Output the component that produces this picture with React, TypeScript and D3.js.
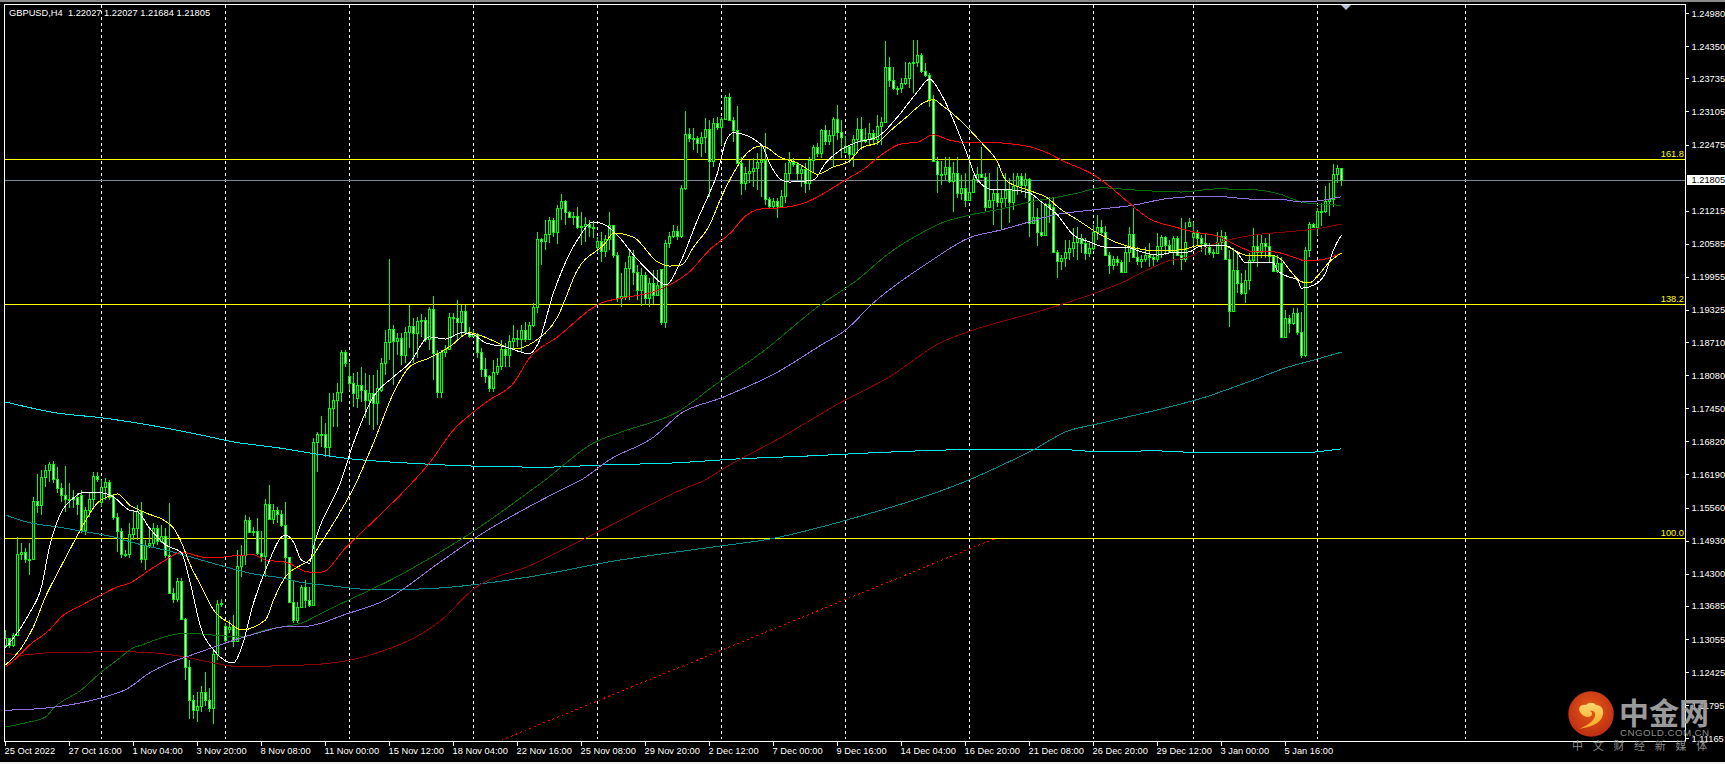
import React from "react";
import * as d3 from "d3";

// all bar prices are in points (1/10000)
const closes = [
  11308,11294,11313,11468,11471,11458,11458,11569,11561,11614,
  11628,11639,11611,11593,11580,11572,11572,11576,11563,11513,
  11551,11572,11616,11611,11595,11605,11576,11538,11511,11468,
  11468,11506,11517,11550,11458,11485,11489,11517,11492,11502,
  11466,11393,11382,11416,11344,11252,11190,11170,11178,11205,
  11190,11174,11277,11372,11374,11304,11329,11302,11445,11466,
  11532,11510,11511,11470,11464,11563,11534,11551,11544,11523,
  11462,11376,11342,11367,11405,11380,11370,11681,11696,11696,
  11671,11746,11761,11776,11852,11831,11793,11774,11790,11780,
  11761,11774,11755,11784,11831,11871,11896,11873,11879,11847,
  11890,11902,11889,11911,11913,11877,11934,11850,11776,11852,
  11858,11919,11917,11910,11930,11890,11883,11887,11852,11820,
  11807,11784,11814,11826,11858,11847,11873,11879,11877,11894,
  11877,11904,11938,12068,12064,12077,12104,12081,12127,12140,
  12119,12110,12111,12091,12092,12096,12091,12091,12064,12045,
  12068,12094,12037,11955,11959,12012,12035,12005,11970,11999,
  11955,11984,11961,11980,11910,12060,12073,12083,12073,12165,
  12268,12260,12260,12251,12262,12277,12216,12289,12281,12296,
  12338,12294,12275,12212,12174,12193,12197,12203,12214,12218,
  12144,12131,12140,12131,12150,12193,12214,12211,12193,12201,
  12174,12218,12243,12231,12275,12254,12266,12296,12272,12262,
  12245,12230,12258,12277,12254,12258,12270,12258,12283,12291,
  12395,12371,12355,12355,12365,12374,12403,12405,12418,12388,
  12380,12334,12216,12192,12192,12205,12178,12193,12155,12165,
  12142,12157,12182,12192,12186,12129,12142,12155,12138,12146,
  12161,12138,12169,12188,12171,12182,12098,12110,12081,12075,
  12134,12129,12043,12026,12031,12043,12051,12062,12070,12060,
  12041,12051,12081,12091,12081,12037,12018,12030,12024,12005,
  12043,12077,12033,12026,12030,12037,12033,12030,12054,12071,
  12056,12043,12070,12037,12030,12062,12100,12079,12070,12060,
  12052,12043,12041,12062,12073,12030,11930,12009,11984,11965,
  11990,12028,12054,12043,12060,12054,12035,12007,12022,11881,
  11917,11908,11927,11890,11847,12047,12096,12091,12121,12121,
  12140,12144,12192,12203,12180.5,
];

const highs = [
  11323,11308,11317,11500,11489,11479,11489,11576,11620,11628,
  11637,11643,11645,11633,11603,11635,11603,11590,11584,11590,
  11557,11584,11624,11624,11609,11612,11609,11580,11546,11517,
  11475,11527,11551,11561,11567,11494,11519,11527,11523,11523,
  11517,11565,11403,11422,11422,11346,11266,11199,11205,11216,
  11243,11212,11285,11380,11382,11336,11342,11351,11475,11485,
  11542,11538,11519,11536,11511,11572,11599,11563,11557,11551,
  11567,11462,11418,11376,11409,11418,11405,11689,11700,11731,
  11717,11774,11774,11793,11856,11856,11831,11812,11814,11824,
  11812,11809,11809,11818,11841,11894,12030,11904,11889,11889,
  11900,11942,11917,11919,11925,11919,11938,11959,11856,11856,
  11866,11927,11927,11951,11942,11942,11900,11894,11889,11860,
  11841,11809,11837,11841,11875,11870,11885,11904,11894,11904,
  11910,11910,11946,12081,12070,12104,12110,12108,12132,12153,
  12142,12121,12119,12129,12119,12110,12104,12100,12072,12081,
  12075,12119,12094,12043,12003,12024,12047,12047,12018,12012,
  12005,11993,12009,12009,12011,12066,12081,12094,12092,12171,
  12312,12279,12279,12264,12272,12298,12294,12298,12300,12300,
  12342,12346,12300,12321,12224,12205,12218,12222,12232,12247,
  12270,12148,12146,12146,12161,12212,12233,12222,12214,12209,
  12212,12224,12247,12251,12277,12285,12275,12300,12323,12294,
  12264,12247,12266,12298,12300,12279,12289,12275,12304,12300,
  12445,12414,12395,12359,12374,12405,12405,12447,12447,12422,
  12403,12384,12342,12224,12216,12224,12224,12214,12224,12190,
  12193,12222,12190,12205,12243,12193,12193,12161,12205,12161,
  12193,12184,12193,12193,12193,12193,12184,12148,12127,12136,
  12136,12148,12148,12047,12037,12066,12066,12089,12091,12077,
  12070,12062,12094,12113,12104,12092,12043,12035,12035,12028,
  12056,12091,12127,12052,12037,12052,12060,12039,12079,12075,
  12073,12066,12073,12073,12108,12100,12108,12100,12085,12075,
  12077,12060,12049,12081,12085,12081,12047,12051,12041,12003,
  12009,12041,12089,12075,12077,12070,12077,12037,12037,12033,
  11932,11923,11936,11936,11929,12052,12100,12098,12127,12136,
  12169,12174,12211,12209,12203,
];

const lows = [
  11290,11289,11290,11311,11456,11450,11428,11456,11546,11542,
  11595,11605,11603,11584,11567,11548,11555,11555,11542,11508,
  11504,11538,11555,11605,11557,11570,11570,11532,11471,11460,
  11462,11460,11494,11494,11450,11437,11479,11481,11485,11489,
  11460,11393,11374,11376,11342,11228,11153,11153,11148,11167,
  11178,11167,11144,11266,11367,11296,11317,11290,11300,11424,
  11447,11508,11502,11466,11452,11424,11532,11525,11527,11519,
  11424,11374,11336,11336,11365,11365,11367,11370,11624,11672,
  11652,11652,11710,11710,11757,11824,11780,11748,11746,11757,
  11727,11713,11704,11713,11776,11809,11837,11790,11847,11828,
  11831,11860,11831,11841,11881,11872,11856,11799,11765,11765,
  11843,11856,11881,11875,11881,11889,11879,11881,11841,11805,
  11793,11776,11776,11809,11818,11824,11824,11856,11862,11852,
  11872,11875,11900,11927,12018,12047,12060,12072,12058,12104,
  12094,12108,12094,12087,12056,12062,12072,12070,12041,12024,
  12033,12047,12032,11948,11938,11951,11951,11980,11951,11940,
  11942,11938,11944,11967,11904,11898,12051,12070,12066,12070,
  12161,12252,12237,12232,12224,12232,12148,12205,12275,12247,
  12294,12294,12252,12212,12152,12161,12174,12167,12161,12148,
  12132,12127,12127,12108,12127,12136,12180,12205,12180,12167,
  12155,12161,12193,12224,12222,12247,12247,12205,12256,12222,
  12232,12212,12205,12232,12237,12251,12247,12247,12247,12247,
  12289,12357,12352,12342,12346,12361,12355,12346,12395,12384,
  12376,12319,12214,12155,12171,12180,12174,12119,12146,12142,
  12129,12142,12155,12174,12184,12119,12129,12094,12129,12085,
  12129,12098,12123,12152,12155,12146,12072,12098,12054,12072,
  12075,12098,12041,11993,12009,12014,12028,12033,12028,12041,
  12028,12033,12047,12066,12075,12035,12001,12009,12016,12003,
  12003,12024,12032,12018,12012,12024,12014,12014,12024,12032,
  12037,12041,12018,12035,12009,12024,12092,12056,12056,12043,
  12037,12037,12032,12041,12047,12028,11900,11929,11965,11961,
  11946,11971,12024,12014,12032,12032,12024,12005,12003,11879,
  11879,11889,11904,11885,11841,11843,12033,12089,12075,12092,
  12117,12112,12129,12174,12168,
];

// opens follow the previous close, except on these bars
const firstOpen = 11294;
const openGaps: Record<number, number> = {
  19: 11580, 24: 11567, 55: 11331, 56: 11325, 57: 11331, 86: 11807, 88: 11765,
  94: 11780, 148: 12052, 164: 12011, 210: 12233, 296: 12092, 297: 12071,
};

const whiteMa = [[0,11289],[4,11329],[6,11355],[9,11405],[11,11481],[14,11548],[17,11574],[19,11584],[24,11584],[27,11576],[31,11551],[33,11548],[36,11517],[40,11485],[44,11470],[46,11418],[49,11323],[52,11285],[57,11260],[59,11289],[62,11374],[65,11437],[70,11504],[72,11490],[74,11456],[76,11450],[77,11481],[84,11609],[87,11679],[92,11767],[97,11805],[101,11831],[106,11881],[110,11877],[114,11889],[117,11885],[120,11870],[125,11862],[131,11849],[133,11866],[137,11965],[143,12066],[147,12100],[150,12094],[154,12066],[157,12037],[161,12005],[165,11980],[169,12028],[173,12104],[176,12155],[178,12193],[180,12252],[182,12270],[189,12247],[191,12212],[194,12180],[196,12176],[202,12180],[205,12212],[208,12233],[213,12252],[218,12262],[223,12300],[228,12348],[231,12372],[234,12342],[240,12237],[243,12180],[247,12161],[251,12161],[256,12155],[259,12138],[263,12113],[267,12075],[271,12062],[275,12052],[280,12052],[284,12043],[288,12037],[291,12041],[296,12043],[298,12052],[301,12056],[304,12056],[308,12041],[310,12022],[317,12022],[318,12007],[321,11995],[323,11990],[324,11974],[328,11984],[330,12003],[332,12047],[334,12075]];
const yellowMa = [[0,11256],[4,11289],[7,11329],[10,11386],[13,11431],[17,11489],[19,11517],[23,11565],[27,11580],[28,11582],[31,11561],[35,11546],[40,11530],[42,11517],[44,11489],[46,11450],[49,11405],[52,11361],[56,11336],[59,11323],[65,11342],[67,11380],[70,11424],[74,11447],[76,11456],[79,11490],[88,11609],[92,11679],[97,11774],[101,11824],[106,11841],[111,11862],[116,11889],[119,11883],[123,11870],[127,11858],[132,11871],[138,11919],[143,12009],[150,12060],[152,12079],[157,12071],[163,12024],[166,12016],[169,12018],[172,12052],[176,12094],[179,12148],[182,12193],[185,12228],[189,12245],[194,12222],[198,12212],[200,12203],[203,12191],[207,12205],[211,12216],[214,12241],[218,12251],[222,12279],[225,12298],[230,12329],[232,12333],[234,12323],[244,12251],[248,12214],[250,12180],[254,12165],[257,12157],[260,12148],[264,12123],[268,12104],[273,12079],[278,12060],[282,12051],[288,12045],[294,12047],[299,12056],[304,12056],[307,12047],[310,12037],[316,12037],[319,12028],[321,12009],[324,11986],[326,11984],[328,11997],[331,12024],[334,12041]];
const redMa = [[0,11252],[3,11271],[6,11294],[11,11323],[14,11348],[19,11370],[24,11390],[28,11405],[31,11412],[36,11437],[40,11456],[44,11471],[49,11462],[52,11460],[57,11464],[62,11466],[65,11456],[70,11452],[76,11433],[79,11433],[85,11479],[91,11523],[100,11590],[106,11641],[112,11704],[117,11738],[121,11761],[127,11793],[131,11841],[138,11881],[149,11946],[154,11955],[162,11967],[166,11980],[171,12005],[176,12047],[182,12085],[184,12104],[189,12125],[194,12127],[201,12140],[206,12161],[210,12180],[215,12203],[219,12228],[224,12249],[228,12252],[232,12266],[236,12256],[240,12251],[244,12252],[255,12245],[260,12233],[265,12214],[272,12190],[275,12174],[280,12142],[286,12106],[293,12089],[297,12081],[303,12073],[309,12051],[312,12043],[317,12043],[322,12033],[325,12026],[329,12028],[334,12041]];
const darkRedMa = [[0,11279],[4,11275],[10,11279],[24,11281],[32,11281],[40,11277],[45,11271],[52,11260],[57,11254],[65,11254],[79,11258],[92,11277],[109,11342],[117,11401],[131,11445],[150,11517],[169,11590],[175,11609],[179,11628],[194,11690],[209,11757],[221,11805],[234,11871],[240,11889],[262,11938],[274,11969],[279,11984],[284,12003],[290,12024],[297,12037],[300,12052],[304,12062],[307,12068],[312,12075],[320,12081],[328,12087],[334,12096]];
const greenMa = [[0,11138],[5,11146],[10,11157],[12,11174],[19,11209],[24,11243],[28,11266],[32,11289],[34,11294],[39,11308],[45,11317],[52,11313],[59,11310],[65,11323],[70,11330],[74,11336],[79,11355],[100,11433],[114,11496],[135,11609],[147,11679],[154,11700],[168,11738],[178,11793],[189,11851],[203,11938],[213,11990],[221,12041],[229,12079],[234,12098],[241,12113],[249,12125],[256,12138],[262,12146],[268,12155],[274,12165],[282,12161],[294,12157],[303,12163],[313,12161],[319,12152],[324,12138],[328,12134],[334,12132]];
const purpleMa = [[0,11170],[10,11174],[20,11186],[28,11203],[30,11209],[36,11241],[41,11260],[45,11271],[52,11290],[59,11308],[64,11319],[70,11329],[74,11329],[79,11336],[84,11350],[95,11380],[109,11454],[117,11496],[139,11590],[144,11609],[151,11647],[162,11690],[169,11736],[179,11765],[193,11814],[204,11866],[210,11894],[217,11946],[231,12024],[241,12070],[249,12085],[255,12098],[262,12113],[272,12123],[282,12132],[290,12144],[297,12148],[304,12148],[310,12144],[320,12142],[324,12138],[328,12140],[334,12148]];
const tealMa = [[0,11542],[5,11529],[13,11519],[20,11510],[27,11500],[32,11489],[42,11471],[49,11456],[56,11441],[61,11431],[69,11422],[75,11412],[79,11409],[93,11399],[109,11403],[131,11424],[152,11454],[177,11481],[191,11496],[213,11538],[235,11591],[241,11609],[248,11633],[257,11666],[265,11700],[274,11717],[301,11769],[312,11799],[320,11822],[328,11839],[334,11852]];
const cyanMa = [[0,11757],[13,11736],[24,11727],[36,11713],[49,11694],[57,11681],[68,11670],[76,11660],[86,11649],[100,11641],[117,11635],[135,11633],[149,11637],[167,11641],[184,11649],[200,11654],[222,11662],[239,11666],[265,11666],[274,11662],[287,11664],[301,11660],[323,11660],[334,11668]];
const trendLine = [[124,11113],[247,11496]];

const maLines = [
  { points: cyanMa, color: "#00e8e8" },
  { points: tealMa, color: "#008b8b" },
  { points: darkRedMa, color: "#8b0000" },
  { points: greenMa, color: "#006f00" },
  { points: purpleMa, color: "#9370db" },
  { points: redMa, color: "#ff0000" },
  { points: yellowMa, color: "#ffff00" },
  { points: whiteMa, color: "#ffffff" },
];

const fiboLevels = [
  { label: "161.8", price: 1.22194 },
  { label: "138.2", price: 1.19432 },
  { label: "100.0", price: 1.14975 },
];

const lastPrice = 1.21805;
const priceTicks = [1.2498,1.2435,1.23735,1.23105,1.22475,1.21215,1.20585,1.19955,1.19325,1.1871,1.1808,1.1745,1.1682,1.1619,1.1556,1.1493,1.143,1.13685,1.13055,1.12425,1.11795,1.11165];
const timeLabels = ["25 Oct 2022","27 Oct 16:00","1 Nov 04:00","3 Nov 20:00","8 Nov 08:00","11 Nov 00:00","15 Nov 12:00","18 Nov 04:00","22 Nov 16:00","25 Nov 08:00","29 Nov 20:00","2 Dec 12:00","7 Dec 00:00","9 Dec 16:00","14 Dec 04:00","16 Dec 20:00","21 Dec 08:00","26 Dec 20:00","29 Dec 12:00","3 Jan 00:00","5 Jan 16:00"];
const gridBars = [24,55,86,117,148,179,210,241,272,297,328,365];

const width = 1725;
const height = 764;
const plot = { left: 4.5, top: 4.5, right: 1685.5, bottom: 741.5 };
const axisFont = "'Liberation Sans', Arial, sans-serif";

const x = d3.scaleLinear().domain([0, 334]).range([5.5, 1341.5]);
const y = d3.scaleLinear().domain([1.11165, 1.2498]).range([738.3, 13]);
const px = (v: number) => Math.round(v) + 0.5;

const bars = closes.map((c, i) => ({
  i,
  open: (openGaps[i] ?? (i === 0 ? firstOpen : closes[i - 1])) / 10000,
  close: c / 10000,
  high: highs[i] / 10000,
  low: lows[i] / 10000,
}));

const maPath = d3
  .line<number[]>()
  .x((d) => x(d[0]))
  .y((d) => y(d[1] / 10000))
  .curve(d3.curveMonotoneX);

const App = () => {
  return (
    <svg
      width={width}
      height={height}
      style={{ position: "fixed", left: 0, top: 0, display: "block" }}
      fontFamily={axisFont}
    >
      <defs>
        <clipPath id="plotClip">
          <rect x={plot.left} y={plot.top} width={plot.right - plot.left} height={plot.bottom - plot.top} />
        </clipPath>
        <radialGradient id="logoBall" cx="0.5" cy="0.4" r="0.65">
          <stop offset="0%" stopColor="#e85a18" />
          <stop offset="100%" stopColor="#b92a12" />
        </radialGradient>
        <linearGradient id="logoCloud" x1="0" y1="0" x2="0" y2="1">
          <stop offset="0%" stopColor="#ffd870" />
          <stop offset="100%" stopColor="#f6a81e" />
        </linearGradient>
      </defs>

      <rect width={width} height={height} fill="#000" />
      <rect width={width} height={2} fill="#8a8a8a" />
      <rect y={762} width={width} height={2} fill="#f0f0f0" />

      {/* grid */}
      {gridBars.map((b) => (
        <line key={b} x1={px(x(b) - 0.5)} x2={px(x(b) - 0.5)} y1={5} y2={739}
          stroke="#fff" strokeDasharray="3 3" shapeRendering="crispEdges" />
      ))}

      {/* levels */}
      {fiboLevels.map((l) => (
        <g key={l.label}>
          <line x1={plot.left} x2={plot.right} y1={px(y(l.price))} y2={px(y(l.price))} stroke="#ffff00" shapeRendering="crispEdges" />
          <text x={1684} y={px(y(l.price)) - 3} textAnchor="end" fontSize={9.3} fill="#ffff00">{l.label}</text>
        </g>
      ))}
      <line x1={plot.left} x2={plot.right} y1={px(y(lastPrice))} y2={px(y(lastPrice))} stroke="#778899" shapeRendering="crispEdges" />

      {/* candles */}
      <g clipPath="url(#plotClip)" shapeRendering="crispEdges">
        {bars.map((b) => {
          const top = px(y(Math.max(b.open, b.close)));
          const bottom = px(y(Math.min(b.open, b.close)));
          return (
            <g key={b.i}>
              <line x1={x(b.i)} x2={x(b.i)} y1={y(b.high)} y2={y(b.low)} stroke="#00ff00" />
              <rect x={x(b.i) - 1} y={top} width={2} height={Math.max(bottom - top, 1)}
                fill={b.close >= b.open ? "#000" : "#fff"} stroke="#00ff00" />
            </g>
          );
        })}
        {maLines.map((m) => (
          <path key={m.color} d={maPath(m.points) ?? ""} fill="none" stroke={m.color} />
        ))}
        <path d={maPath(trendLine) ?? ""} fill="none" stroke="#ff0000" strokeDasharray="2 3" />
      </g>

      {/* frame */}
      <rect x={plot.left} y={plot.top} width={plot.right - plot.left} height={plot.bottom - plot.top}
        fill="none" stroke="#fff" shapeRendering="crispEdges" />
      <path d="M1341 5h10l-5 5z" fill="#b4c4d4" />

      <text x={9} y={16} fontSize={9.3} fill="#fff" xmlSpace="preserve">
        {"GBPUSD,H4  1.22027 1.22027 1.21684 1.21805"}
      </text>

      {/* price axis */}
      {priceTicks.map((p) => (
        <g key={p}>
          <line x1={1686} x2={1689} y1={px(y(p))} y2={px(y(p))} stroke="#fff" shapeRendering="crispEdges" />
          <text x={1691.5} y={y(p) + 3.5} fontSize={9.3} fill="#fff">{p.toFixed(5)}</text>
        </g>
      ))}
      <rect x={1687} y={175} width={38} height={10} fill="#fff" />
      <text x={1691.5} y={y(lastPrice) + 3.5} fontSize={9.3} fill="#000">{lastPrice.toFixed(5)}</text>

      {/* time axis */}
      {timeLabels.map((t, i) => (
        <g key={t}>
          <line x1={x(i * 16) - 0.5} x2={x(i * 16) - 0.5} y1={742} y2={746} stroke="#fff" shapeRendering="crispEdges" />
          <text x={x(i * 16) - 1} y={753.5} fontSize={9.3} fill="#fff">{t}</text>
        </g>
      ))}

      {/* watermark */}
      <circle cx={1591} cy={714} r={22.7} fill="url(#logoBall)" />
      <path
        d="M1580 712c-3-5 2-8 6-7 2-3 8-3 10 0 5 0 8 4 7 9-1 7-7 12-24 15 9-4 15-8 16-13 1-4-2-6-5-5 2 1 3 3 1 5-3 2-8 1-11-4z"
        fill="url(#logoCloud)"
      />
      <text x={1619} y={724} fontSize={30} fontWeight={700} fill="#9a9a9a" fontFamily="'Noto Sans CJK SC'">中金网</text>
      <text x={1620} y={736} fontSize={9.8} fill="#8c8c8c" fontFamily="'Liberation Sans', sans-serif" letterSpacing={0.4}>CNGOLD.COM.CN</text>
      <text x={1572} y={750} fontSize={11} fill="#8c8c8c" fontFamily="'Noto Sans CJK SC'" letterSpacing={9.7}>中文财经新媒体</text>
    </svg>
  );
};

export default App;
